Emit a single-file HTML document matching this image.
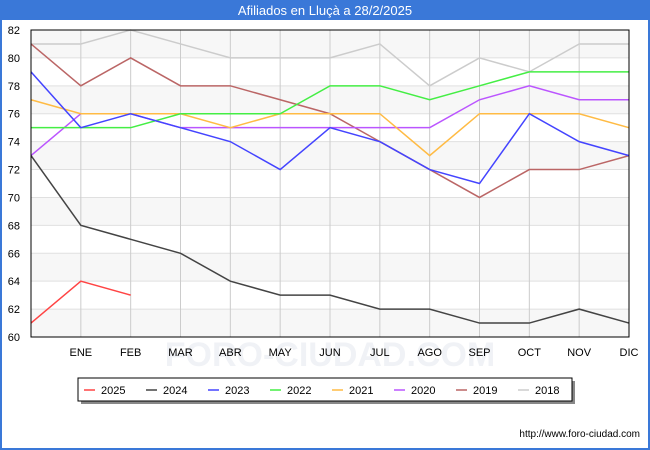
<!DOCTYPE html>
<html><head><meta charset="utf-8"><style>
body{margin:0;background:#fff;font-family:"Liberation Sans",sans-serif}
#wrap{position:relative;width:650px;height:450px;overflow:hidden;border:0}
</style></head><body>
<div id="wrap">
<svg id="c" width="650" height="450" xmlns="http://www.w3.org/2000/svg" font-family="Liberation Sans, sans-serif"></svg>
</div>
<script>
const months=["","ENE","FEB","MAR","ABR","MAY","JUN","JUL","AGO","SEP","OCT","NOV","DIC"];
const yTicks=[60,62,64,66,68,70,72,74,76,78,80,82];
const seriesNames=["2025","2024","2023","2022","2021","2020","2019","2018"];
const seriesColors=["#ff4444","#444444","#4444ff","#44ee44","#ffbb44","#bb55ff","#bb6666","#cccccc"];
const s2018=[81,81,82,81,80,80,80,81,78,80,79,81,81];
const s2019=[81,78,80,78,78,77,76,74,72,70,72,72,73];
const s2020=[73,76,76,75,75,75,75,75,75,77,78,77,77];
const s2021=[77,76,76,76,75,76,76,76,73,76,76,76,75];
const s2022=[75,75,75,76,76,76,78,78,77,78,79,79,79];
const s2023=[79,75,76,75,74,72,75,74,72,71,76,74,73];
const s2024=[73,68,67,66,64,63,63,62,62,61,61,62,61];
const s2025=[61,64,63];
const drawOrder=[[s2018,7],[s2019,6],[s2020,5],[s2021,4],[s2022,3],[s2023,2],[s2024,1],[s2025,0]];
const svg=document.getElementById('c');const NS="http://www.w3.org/2000/svg";
const L=31,R=629,T=30,B=337,ymin=60,ymax=82;
const xs=i=>L+i*(R-L)/12, ys=v=>B-(v-ymin)/(ymax-ymin)*(B-T);
function mk(t,a,txt){const e=document.createElementNS(NS,t);for(const k in a)e.setAttribute(k,a[k]);if(txt!=null)e.textContent=txt;svg.appendChild(e);return e;}
let e=mk('rect',{x:0,y:0,width:650,height:20,fill:'#3a78d8'});

e=mk('text',{x:325,y:15,'text-anchor':'middle','font-size':13,fill:'#fff'},'Afiliados en Lluçà a 28/2/2025');

mk('rect',{x:0,y:20,width:2,height:430,fill:'#3a78d8'});mk('rect',{x:648,y:20,width:2,height:430,fill:'#3a78d8'});mk('rect',{x:0,y:448,width:650,height:2,fill:'#3a78d8'});
e=mk('text',{x:330,y:366,'text-anchor':'middle','font-size':34,fill:'#f0f2f6','font-weight':'bold'},'FORO-CIUDAD.COM');

for(let k=0;k<yTicks.length-1;k++){if(k%2==0){e=mk('rect',{x:L,y:ys(yTicks[k+1]),width:R-L,height:ys(yTicks[k])-ys(yTicks[k+1]),fill:'#f7f7f7'});}}
yTicks.forEach(v=>{e=mk('line',{x1:L,x2:R,y1:ys(v),y2:ys(v),stroke:'#e0e0e0'});
e=mk('text',{x:L-11,y:ys(v)+4,'text-anchor':'end','font-size':11,fill:'#000'},v);});
months.forEach((m,i)=>{if(i>0){e=mk('line',{x1:xs(i),x2:xs(i),y1:T,y2:B,stroke:'#cccccc'});
e=mk('text',{x:xs(i),y:356,'text-anchor':'middle','font-size':11,fill:'#000'},m);}});
drawOrder.forEach(([d,ci])=>{e=mk('polyline',{points:d.map((v,i)=>xs(i)+','+ys(v)).join(' '),fill:'none',stroke:seriesColors[ci],'stroke-width':1.5});
});
e=mk('rect',{x:L,y:T,width:R-L,height:B-T,fill:'none',stroke:'#000'});
mk('rect',{x:81,y:381,width:494,height:23,fill:'#888'});
e=mk('rect',{x:78,y:378,width:494,height:23,fill:'#fff',stroke:'#000'});
seriesNames.forEach((n,i)=>{const x0=84+i*62;
e=mk('line',{x1:x0,x2:x0+11,y1:390,y2:390,stroke:seriesColors[i],'stroke-width':1.5});
e=mk('text',{x:x0+17,y:394,'font-size':11,fill:'#000'},n);});
e=mk('text',{x:640,y:437,'text-anchor':'end','font-size':10,fill:'#000'},'http://www.foro-ciudad.com');

</script>
</body></html>
